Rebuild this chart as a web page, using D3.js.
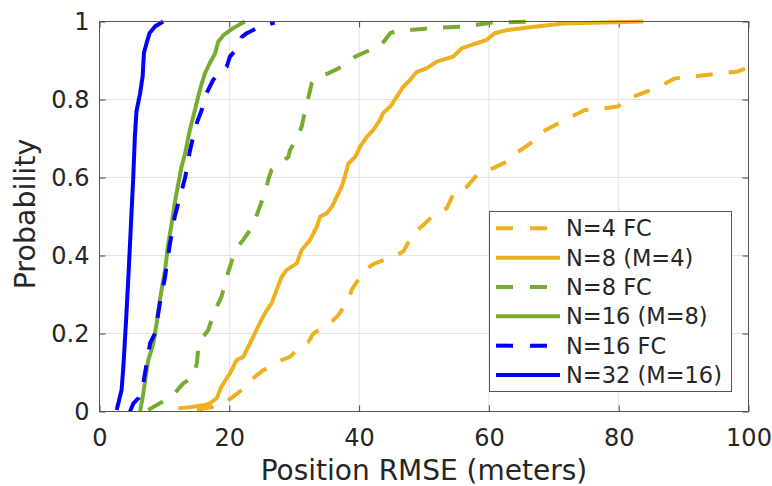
<!DOCTYPE html>
<html><head><meta charset="utf-8">
<script src="https://cdn.jsdelivr.net/npm/d3@7"></script>
<style>body{margin:0;background:#fff}svg{display:block}text{font-family:"DejaVu Sans",sans-serif;fill:#262626}</style>
</head><body><svg id="c" width="772" height="486"></svg>
<script>
const xTicks = [0, 20, 40, 60, 80, 100];
const yTicks = [0, 0.2, 0.4, 0.6, 0.8, 1];
const seriesNames = ["N=4 FC", "N=8 (M=4)", "N=8 FC", "N=16 (M=8)", "N=16 FC", "N=32 (M=16)"];
const seriesColors = ["#EDB120", "#EDB120", "#77AC30", "#77AC30", "#0000FF", "#0000FF"];
const seriesDashed = [true, false, true, false, true, false];

const n4fc = [[15,0.004],[17.5,0.012],[19.5,0.025],[20.6,0.038],[21.9,0.055],[23.95,0.089],[25.25,0.106],[28.05,0.132],[29.35,0.14],[30.9,0.166],[32.2,0.179],[32.95,0.2],[35.5,0.226],[36.8,0.247],[38.35,0.286],[38.85,0.312],[40.15,0.345],[41.2,0.367],[42.45,0.38],[45.3,0.397],[46.8,0.41],[48.35,0.457],[49.9,0.478],[51.7,0.508],[53.5,0.521],[54.8,0.568],[56.6,0.576],[58.6,0.615],[60.7,0.624],[63.25,0.645],[64.5,0.666],[66.8,0.692],[67.85,0.713],[70.7,0.739],[72.2,0.752],[74.8,0.773],[77.1,0.776],[79.9,0.782],[80.95,0.799],[84.3,0.82],[85.85,0.829],[88.6,0.854],[90.95,0.858],[95.6,0.867],[98.2,0.871],[100,0.883],[102,0.89]];
const n8m4 = [[12.15,0.008],[13.9,0.011],[16.25,0.017],[17.0,0.021],[18.05,0.034],[18.8,0.064],[20.1,0.098],[21.15,0.132],[22.15,0.14],[23.2,0.175],[24.2,0.209],[24.95,0.235],[25.8,0.26],[26.5,0.277],[27.3,0.312],[28.05,0.345],[28.85,0.363],[30.4,0.38],[31.15,0.414],[32.45,0.44],[33.5,0.474],[34.0,0.5],[35.0,0.508],[35.8,0.525],[36.55,0.55],[37.3,0.576],[37.8,0.602],[38.35,0.636],[39.4,0.653],[40.15,0.679],[41.2,0.705],[42.2,0.722],[43.2,0.747],[43.7,0.765],[44.8,0.782],[45.8,0.807],[46.8,0.833],[47.85,0.85],[48.9,0.871],[50.4,0.88],[51.95,0.897],[54.5,0.91],[55.8,0.931],[57.35,0.94],[59.65,0.953],[60.9,0.97],[62.75,0.978],[66.3,0.985],[71.5,0.995],[83.8,1.0]];
const n8fc = [[7.5,0.004],[9.3,0.021],[11.1,0.038],[12.9,0.072],[14.45,0.089],[15.0,0.124],[15.2,0.158],[16.0,0.192],[16.75,0.209],[17.8,0.26],[18.8,0.294],[19.6,0.345],[20.1,0.371],[20.9,0.414],[22.15,0.44],[23.2,0.465],[23.95,0.491],[24.7,0.525],[25.5,0.56],[26.0,0.594],[26.5,0.619],[27.8,0.636],[29.1,0.653],[29.35,0.67],[30.4,0.70],[31.15,0.73],[31.7,0.773],[32.2,0.807],[32.7,0.841],[33.5,0.858],[35.25,0.867],[37.8,0.888],[39.4,0.91],[41.7,0.927],[43.2,0.935],[44.8,0.97],[45.8,0.976],[47.6,0.978],[50.9,0.983],[56.05,0.987],[57.6,0.99],[60.2,0.997],[66.6,1.0]];
const n16m8 = [[6.25,0.0],[6.75,0.047],[7.5,0.13],[8.3,0.175],[8.8,0.226],[9.3,0.286],[10.1,0.363],[10.6,0.43],[11.1,0.48],[11.6,0.534],[12.15,0.585],[12.65,0.628],[13.2,0.662],[13.7,0.705],[14.2,0.74],[14.7,0.773],[15.2,0.807],[15.75,0.841],[16.25,0.867],[17.0,0.893],[17.8,0.918],[18.3,0.948],[19.1,0.965],[20.6,0.983],[22.4,1.0]];
const n16fc = [[4.7,0.0],[5.2,0.02],[6.0,0.034],[6.75,0.072],[7.0,0.098],[7.8,0.175],[8.55,0.2],[9.3,0.277],[10.1,0.345],[10.85,0.43],[11.6,0.5],[12.4,0.55],[13.2,0.60],[13.95,0.67],[14.45,0.705],[15.0,0.74],[15.75,0.773],[16.5,0.816],[17.5,0.85],[18.8,0.876],[19.6,0.884],[20.1,0.91],[21.4,0.935],[21.9,0.96],[22.7,0.97],[24.7,0.987],[27.0,0.997]];
const n32m16 = [[2.65,0.004],[3.4,0.055],[3.7,0.12],[4.1,0.235],[4.45,0.345],[4.7,0.43],[4.95,0.515],[5.2,0.60],[5.45,0.705],[5.7,0.77],[6.25,0.815],[6.65,0.86],[6.85,0.92],[7.25,0.944],[7.7,0.97],[8.55,0.987],[9.8,1.0]];
const seriesData = [n4fc, n8m4, n8fc, n16m8, n16fc, n32m16];

const svg = d3.select("#c");
const L = 99.5, R = 748.5, T = 21.5, B = 411.5;
const x = d3.scaleLinear().domain([0, 100]).range([L, R]);
const y = d3.scaleLinear().domain([0, 1]).range([B, T]);

// grid
const g = svg.append("g");
g.selectAll(".gx").data(xTicks).join("line").attr("x1", d => x(d)).attr("x2", d => x(d)).attr("y1", T).attr("y2", B).attr("stroke", "#e3e3e3").attr("stroke-width", 1);
g.selectAll(".gy").data(yTicks).join("line").attr("y1", d => y(d)).attr("y2", d => y(d)).attr("x1", L).attr("x2", R).attr("stroke", "#e3e3e3").attr("stroke-width", 1);

// axes with inward ticks
const axB = svg.append("g").attr("transform", `translate(0,${B})`).call(d3.axisBottom(x).tickValues(xTicks).tickSize(-6).tickPadding(14).tickFormat(d3.format("d")));
const axT = svg.append("g").attr("transform", `translate(0,${T})`).call(d3.axisTop(x).tickValues(xTicks).tickSize(-6).tickFormat(""));
const axL = svg.append("g").attr("transform", `translate(${L},0)`).call(d3.axisLeft(y).tickValues(yTicks).tickSize(-6).tickPadding(10).tickFormat(d => d === 0 || d === 1 ? String(d) : d3.format(".1f")(d)));
const axR = svg.append("g").attr("transform", `translate(${R},0)`).call(d3.axisRight(y).tickValues(yTicks).tickSize(-6).tickFormat(""));
[axB, axT, axL, axR].forEach(a => {
  a.select(".domain").remove();
  a.selectAll(".tick line").attr("stroke", "#444").attr("stroke-width", 1);
  a.selectAll("text").attr("font-size", 24).attr("fill", "#262626").style("font-family", "DejaVu Sans");
});
axB.selectAll("text").attr("dy", null).attr("y", 34);

// clip
svg.append("clipPath").attr("id", "clip").append("rect").attr("x", L).attr("y", T - 4).attr("width", R - L).attr("height", B - T + 8);

const line = d3.line().x(d => x(d[0])).y(d => y(d[1]));
const plot = svg.append("g").attr("clip-path", "url(#clip)");
seriesData.forEach((s, i) => {
  plot.append("path").attr("d", line(s)).attr("fill", "none")
    .attr("stroke", seriesColors[i]).attr("stroke-width", 4)
    .attr("stroke-linejoin", "round")
    .attr("stroke-dasharray", seriesDashed[i] ? "17,16" : null);
});

// box
svg.append("rect").attr("x", L).attr("y", T).attr("width", R - L).attr("height", B - T).attr("fill", "none").attr("stroke", "#555").attr("stroke-width", 1);

// labels
svg.append("text").attr("x", (L + R) / 2).attr("y", 480).attr("text-anchor", "middle").attr("font-size", 28).text("Position RMSE (meters)");
svg.append("text").attr("transform", "translate(35,214) rotate(-90)").attr("text-anchor", "middle").attr("font-size", 28.5).text("Probability");

// legend
const lg = svg.append("g");
lg.append("rect").attr("x", 489.5).attr("y", 211.5).attr("width", 242).attr("height", 180).attr("fill", "#fff").attr("stroke", "#555").attr("stroke-width", 1);
const rowY = d3.scaleLinear().domain([0, 5]).range([228.3, 375]);
seriesNames.forEach((nm, i) => {
  lg.append("line").attr("x1", 496).attr("x2", 560).attr("y1", rowY(i)).attr("y2", rowY(i))
    .attr("stroke", seriesColors[i]).attr("stroke-width", 4)
    .attr("stroke-dasharray", seriesDashed[i] ? "17,17" : null);
  lg.append("text").attr("x", 566).attr("y", rowY(i)).attr("dy", "0.36em").attr("font-size", 22.5).text(nm);
});
</script></body></html>
